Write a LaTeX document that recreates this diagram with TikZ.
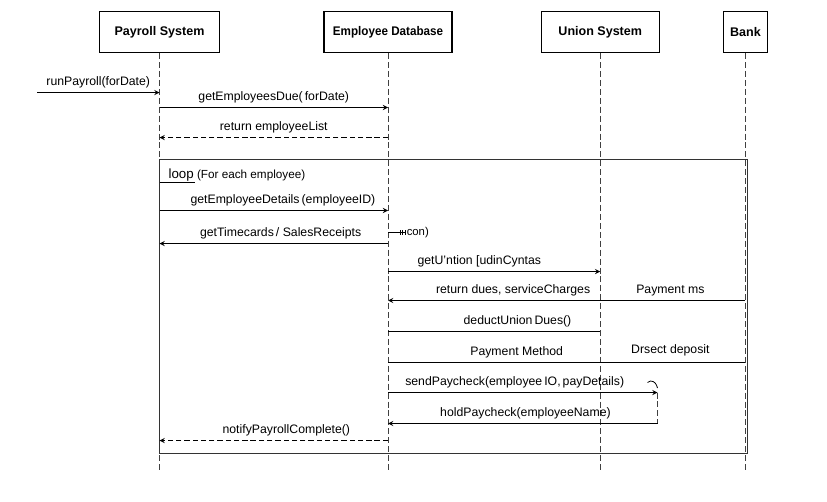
\documentclass[tikz,border=0pt]{standalone}
\usepackage{fontspec}
\usepackage{graphicx}
\setmainfont{Liberation Sans}
\usetikzlibrary{arrows,positioning}
\tikzstyle{actor} = [rectangle, draw, line width=0.9pt, minimum height=30.75pt, inner sep=2pt, font=\bfseries\fontsize{9.4}{11}\selectfont]
\tikzstyle{lifeline} = [draw, black!75, line width=0.6pt, dash pattern=on 4.5pt off 2.2pt]
\tikzstyle{frame} = [draw, black!80, line width=0.75pt]
\tikzstyle{line} = [draw, line width=0.75pt, -stealth]
\tikzstyle{plain} = [draw, line width=0.75pt]
\tikzstyle{reply} = [draw, line width=0.75pt, dash pattern=on 4pt off 2.2pt, -stealth]
\tikzstyle{msg} = [above, inner sep=2.5pt, font=\fontsize{9.2}{11}\selectfont, text height=1.6ex, text depth=.45ex]

\begin{document}
\begin{tikzpicture}[x=0.75pt, y=-0.75pt]
        \useasboundingbox (0,0) rectangle (827,501);
        \node[actor, minimum width=90pt]                       (ps) at (159.5,32) {Payroll System};
        \node[actor, minimum width=96pt, right=77.5pt of ps]   (db) {\scalebox{0.93}[1]{Employee Database}};
        \node[actor, minimum width=88.5pt, right=66pt of db]   (us) {Union System};
        \node[actor, minimum width=32.5pt, right=47.5pt of us] (bk) {Bank};

        % rows of the messages
        \coordinate (rrun) at (37,92.5);
        \coordinate (rdue) at (0,107.5);
        \coordinate (rret) at (0,137.5);
        \coordinate (ftop) at (0,159.5);
        \coordinate (rdet) at (0,210.5);
        \coordinate (rcon) at (0,232.5);
        \coordinate (rtim) at (0,243.5);
        \coordinate (runi) at (0,271.5);
        \coordinate (rdus) at (0,300.5);
        \coordinate (rded) at (0,331.5);
        \coordinate (rpay) at (0,362.5);
        \coordinate (rsnd) at (0,392.5);
        \coordinate (rhld) at (0,423.5);
        \coordinate (rnot) at (0,440.5);
        \coordinate (fend) at (747.5,453.5);
        \coordinate (bott) at (0,471.5);
        \coordinate (act)  at (657.5,0);

        \foreach \n in {ps,db,us,bk}
          \path[lifeline] (\n.south) -- (\n |- bott);
        \path[frame] (ps |- ftop) rectangle (fend);

        \path[line]  (rrun) --          node[msg]{runPayroll(forDate)} (ps |- rrun);
        \path[line]  (ps |- rdue) --    node[msg]{getEmployeesDue(\,forDate)} (db |- rdue);
        \path[reply] (db |- rret) --    node[msg]{return employeeList} (ps |- rret);

        \node[anchor=west, inner sep=1pt, font=\fontsize{10}{12}\selectfont] (loop) at (167,175) {loop};
        \node[anchor=base west, inner sep=1pt, font=\fontsize{8.8}{10}\selectfont] (cond) at (loop.base east) {(For each employee)};
        \path[plain] (ps |- loop.south) -- (loop.south east);

        \path[line]  (ps |- rdet) --    node[msg, pos=.54]{getEmployeeDetails\,(employeeID)} (db |- rdet);
        \path[line]  (db |- rtim) --    node[msg, pos=.47]{getTimecards\,/ SalesReceipts} (ps |- rtim);
        \path[plain, line width=0.6pt] (db |- rcon) -- ++(17,0) node[right, inner sep=1pt, font=\fontsize{8.5}{10}\selectfont] (con) {con)};
        \foreach \dx in {12,14.5,17}
          \path[plain, line width=0.5pt] (db |- rcon) ++(\dx,-2.5) -- ++(0,5);
        \path[line]  (db |- runi) --    node[msg, pos=.43]{getU'ntion [udinCyntas} (us |- runi);
        \path[line]  (bk |- rdus) --    node[msg, pos=.21]{Payment ms} node[msg, pos=.65]{return dues, serviceCharges} (db |- rdus);
        \path[plain] (db |- rded) --    node[msg, pos=.61]{deductUnion\,Dues()} (us |- rded);
        \path[plain] (db |- rpay) --    node[msg, pos=.36]{Payment Method} node[msg, pos=.79, yshift=1.5pt]{Drsect deposit} (bk |- rpay);
        \path[line]  (db |- rsnd) --    node[msg, pos=.47]{sendPaycheck(employee\,IO,\,payDetails)} (act |- rsnd);
        \path[lifeline] (act |- rsnd) -- (act |- rhld);
        \path[plain, line width=0.6pt] (act |- rsnd) ++(-10,-10) -- ++(3,-1.5) .. controls +(4,0) and +(-1,-4) .. ++(7,7);
        \path[line]  (act |- rhld) --   node[msg, pos=.49]{holdPaycheck(employeeName)} (db |- rhld);
        \path[reply] (db |- rnot) --    node[msg, pos=.445]{notifyPayrollComplete()} (ps |- rnot);
      \end{tikzpicture}
\end{document}
